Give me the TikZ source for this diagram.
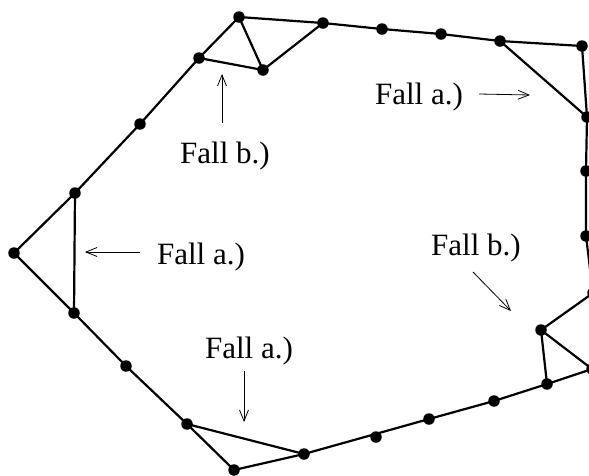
\documentclass[tikz,border=0pt]{standalone}
\usepackage{fontspec}
\setmainfont{Liberation Serif}
\usetikzlibrary{arrows.meta}
\begin{document}
\begin{tikzpicture}[x=1pt,y=-1pt,
  edge/.style={line width=2.2pt},
  pt/.style={circle,fill=black,inner sep=0pt,minimum size=11.5pt},
  lbl/.style={inner sep=0pt,anchor=base,font=\fontsize{31}{36}\selectfont},
  pointer/.style={line width=0.8pt,-{Straight Barb[length=11pt,width=9pt,line width=0.8pt]}}]
\useasboundingbox (0,0) rectangle (589,475);
\begin{scope}
\clip (0,0) rectangle (589,475);
% points
\node[pt] (A) at (14,253) {};
\node[pt] (B) at (75,193) {};
\node[pt] (C) at (140,124) {};
\node[pt] (D) at (199,58) {};
\node[pt] (E) at (239,17) {};
\node[pt] (F) at (263,70) {};
\node[pt] (G) at (323,23) {};
\node[pt] (H) at (382,29) {};
\node[pt] (I) at (441,34) {};
\node[pt] (J) at (500,41) {};
\node[pt] (K) at (582,46) {};
\node[pt] (L) at (587,117) {};
\node[pt] (M) at (586,171) {};
\node[pt] (N) at (586,236) {};
\node[pt] (O) at (593,293) {};
\node[pt] (P) at (541,330) {};
\node[pt] (R) at (592,369) {};
\node[pt] (Q) at (547,384) {};
\node[pt] (S) at (494,401) {};
\node[pt] (T) at (429,419) {};
\node[pt] (U) at (376,437) {};
\node[pt] (V) at (304,454) {};
\node[pt] (W) at (234,470) {};
\node[pt] (X) at (187,424) {};
\node[pt] (Y) at (126,366) {};
\node[pt] (Z) at (74,313) {};
% hull and chords
\draw[edge] (A.center) -- (B.center) -- (C.center) -- (D.center) -- (E.center) -- (G.center) -- (H.center) -- (I.center) -- (J.center) -- (K.center) -- (L.center) -- (M.center) -- (N.center) -- (O.center) -- (P.center) -- (Q.center) -- (S.center) -- (T.center) -- (V.center) -- (W.center) -- (X.center) -- (Y.center) -- (Z.center) -- cycle;
\draw[edge] (D.center) -- (F.center) -- (G.center);
\draw[edge] (E.center) -- (F.center);
\draw[edge] (J.center) -- (L.center);
\draw[edge] (P.center) -- (R.center) -- (Q.center);
\draw[edge] (X.center) -- (V.center);
\draw[edge] (B.center) -- (Z.center);
\end{scope}
% labels
\node[lbl] (l1) at (225,163) {Fall b.)};
\node[lbl] (l2) at (419,104) {Fall a.)};
\node[lbl] (l3) at (201,264) {Fall a.)};
\node[lbl] (l4) at (476,255) {Fall b.)};
\node[lbl] (l5) at (249,358) {Fall a.)};
% pointer arrows
\coordinate (a1s) at (222,123); \coordinate (a1e) at (222,74);
\coordinate (a2s) at (479,94);  \coordinate (a2e) at (530,95);
\coordinate (a3s) at (140,252); \coordinate (a3e) at (85,252);
\coordinate (a4s) at (473,272); \coordinate (a4e) at (511,311);
\coordinate (a5s) at (244,371); \coordinate (a5e) at (244,422);
\draw[pointer] (a1s) -- (a1e);
\draw[pointer] (a2s) -- (a2e);
\draw[pointer] (a3s) -- (a3e);
\draw[pointer] (a4s) -- (a4e);
\draw[pointer] (a5s) -- (a5e);
\end{tikzpicture}
\end{document}
